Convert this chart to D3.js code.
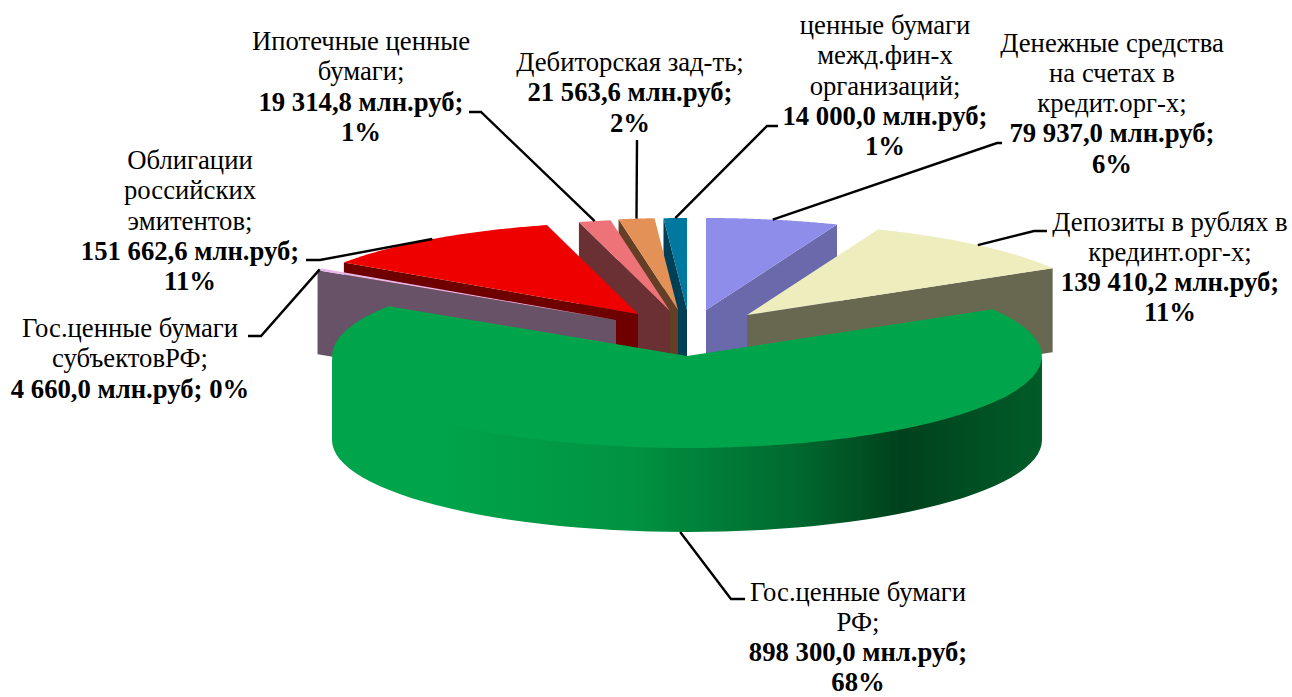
<!DOCTYPE html>
<html>
<head>
<meta charset="utf-8">
<script src="https://cdn.jsdelivr.net/npm/d3@7"></script>
<style>
  body { margin: 0; background: #fff; overflow: hidden; }
  text { font-family: "Liberation Serif", serif; font-size: 26.7px; fill: #000; text-anchor: middle; }
  .val { font-weight: bold; }
</style>
</head>
<body>
<div id="chart"></div>
<script>
// clockwise from 12 o'clock
var categories = [
  ["Денежные средства", "на счетах в", "кредит.орг-х;"],
  ["Депозиты в рублях в", "крединт.орг-х;"],
  ["Гос.ценные бумаги", "РФ;"],
  ["Гос.ценные бумаги", "субъектовРФ;"],
  ["Облигации", "российских", "эмитентов;"],
  ["Ипотечные ценные", "бумаги;"],
  ["Дебиторская зад-ть;"],
  ["ценные бумаги", "межд.фин-х", "организаций;"]
];
var values = [79937.0, 139410.2, 898300.0, 4660.0, 151662.6, 19314.8, 21563.6, 14000.0];
var valueLabels = [
  ["79 937,0 млн.руб;", "6%"],
  ["139 410,2 млн.руб;", "11%"],
  ["898 300,0 мнл.руб;", "68%"],
  ["4 660,0 млн.руб; 0%"],
  ["151 662,6 млн.руб;", "11%"],
  ["19 314,8 млн.руб;", "1%"],
  ["21 563,6 млн.руб;", "2%"],
  ["14 000,0 млн.руб;", "1%"]
];
var topColors = ["#8e8eea", "#ededbd", "#00a44a", "#e8b8e8", "#ee0000", "#ee7378", "#e39157", "#00789f"];
var sideColors = ["#6969ac", "#686850", "#00a44a", "#675267", "#6e0000", "#6a3033", "#643f26", "#003f56"];

var width = 1292, height = 697;
var rx = 355, ry = 92, depth = 84;

// exploded position of each slice's tip
var tips = [[706, 310], [747, 315], [687, 356], [616, 320], [638, 314], [670, 311], [678, 310], [687, 310]];
// label centre x, first baseline, then the two fixed points of the leader
var labelPos = [
  { x: 1112, y: 51.5, leader: [[1002, 143], [997, 143]] },
  { x: 1170, y: 230.5, leader: [[1047, 231], [1034, 231]] },
  { x: 858, y: 600.5, leader: [[745, 599], [731, 599]] },
  { x: 130, y: 337, leader: [[248, 336], [261, 336]] },
  { x: 190, y: 169, leader: [[306, 260], [320, 260]] },
  { x: 361, y: 50, leader: [[469, 112], [481, 112]] },
  { x: 630, y: 71, leader: [[637, 140], [637, 140]] },
  { x: 885, y: 34, leader: [[778, 126], [767, 126]] }
];
var lineStep = 30.3;
// back to front
var drawOrder = [7, 6, 5, 4, 3, 0, 1, 2];

var slices = d3.pie().sort(null)(values);

var svg = d3.select("#chart").append("svg")
  .attr("width", width)
  .attr("height", height);

var rimGrad = svg.append("defs").append("linearGradient")
  .attr("id", "rim")
  .attr("gradientUnits", "userSpaceOnUse")
  .attr("x1", 333).attr("x2", 1043).attr("y1", 0).attr("y2", 0);
[[0, "#00a44a"], [0.15, "#00a44a"], [0.42, "#009341"], [0.65, "#00692f"], [0.8, "#00411c"], [1, "#005c29"]].forEach(function(s) {
  rimGrad.append("stop").attr("offset", s[0]).attr("stop-color", s[1]);
});

var line = d3.line();

function onRim(i, a, drop) {
  return [tips[i][0] + rx * Math.sin(a), tips[i][1] - ry * Math.cos(a) + (drop || 0)];
}

function arcPoints(i, a0, a1, drop) {
  return d3.range(0, 61).map(function(k) {
    return onRim(i, a0 + (a1 - a0) * k / 60, drop);
  });
}

drawOrder.forEach(function(i) {
  var s = slices[i];
  var g = svg.append("g").attr("class", "slice");
  var tip = tips[i];

  if (i === 2) {
    // outer wall of the big slice, only the front half shows
    // top arc sits a bit under the lid so no seam shows
    var a0 = Math.PI / 2, a1 = 3 * Math.PI / 2;
    g.append("path")
      .attr("d", line(arcPoints(i, a0, a1, -2).concat(arcPoints(i, a1, a0, depth))) + "Z")
      .attr("fill", "url(#rim)");
  } else {
    // the cut wall that faces the viewer
    var a = i < 2 ? s.endAngle : s.startAngle;
    var p = onRim(i, a);
    var wall = [tip, p, [p[0], p[1] + depth], [tip[0], tip[1] + depth]];
    g.append("path")
      .attr("d", line(wall) + "Z")
      .attr("fill", sideColors[i]);
  }

  g.append("path")
    .attr("d", line([tip].concat(arcPoints(i, s.startAngle, s.endAngle, 0))) + "Z")
    .attr("fill", topColors[i]);
});

// leaders and labels
slices.forEach(function(s, i) {
  var mid = (s.startAngle + s.endAngle) / 2;
  var anchor = onRim(i, mid, i === 2 ? depth : 0);
  var pos = labelPos[i];

  svg.append("path")
    .attr("d", line(pos.leader.concat([anchor])))
    .attr("fill", "none")
    .attr("stroke", "#000")
    .attr("stroke-width", 2.4);

  var rows = categories[i].map(function(t) { return { t: t, cls: "name" }; })
    .concat(valueLabels[i].map(function(t) { return { t: t, cls: "val" }; }));

  svg.append("g").selectAll("text")
    .data(rows)
    .enter().append("text")
    .attr("class", function(d) { return d.cls; })
    .attr("x", pos.x)
    .attr("y", function(d, k) { return pos.y + k * lineStep; })
    .text(function(d) { return d.t; });
});
</script>
</body>
</html>
